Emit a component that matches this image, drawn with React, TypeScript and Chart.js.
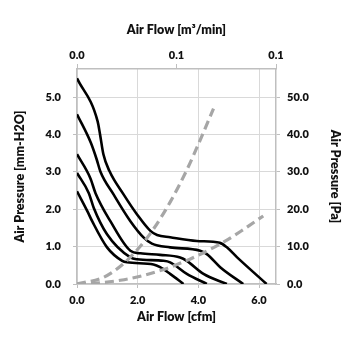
import React, { useEffect, useRef } from "react";
import { Chart, registerables } from "chart.js";

Chart.register(...registerables);

// Fan curves: air flow [cfm] vs static pressure [mm-H2O]
const curve1Cfm = [0, 0.68, 0.76, 0.87, 1.07, 1.54, 1.98, 2.42, 2.64, 3.07, 3.95, 4.71, 4.94, 5.27, 6.25];
const curve1Mm = [5.5, 4.35, 4.0, 3.47, 3.02, 2.39, 1.86, 1.42, 1.31, 1.25, 1.15, 1.1, 0.98, 0.72, 0.0];

const curve2Cfm = [0, 0.46, 0.65, 0.77, 1.21, 1.76, 2.2, 2.47, 3.07, 4.06, 4.28, 4.72, 5.48];
const curve2Mm = [4.54, 3.77, 3.33, 3.01, 2.39, 1.68, 1.24, 1.08, 0.98, 0.89, 0.8, 0.45, 0.0];

const curve3Cfm = [0, 0.44, 0.61, 1.1, 1.76, 2.09, 2.74, 3.4, 3.62, 4.17, 4.94];
const curve3Mm = [3.47, 2.83, 2.43, 1.68, 0.89, 0.82, 0.78, 0.71, 0.62, 0.27, 0.0];

const curve4Cfm = [0, 0.39, 0.55, 0.99, 1.76, 1.98, 2.85, 3.07, 3.62, 4.28];
const curve4Mm = [2.97, 2.43, 2.04, 1.33, 0.71, 0.66, 0.62, 0.58, 0.27, 0.0];

const curve5Cfm = [0, 0.34, 0.5, 0.99, 1.49, 1.65, 2.52, 2.74, 3.07, 3.51];
const curve5Mm = [2.48, 1.95, 1.68, 0.98, 0.62, 0.58, 0.52, 0.45, 0.27, 0.0];

// System impedance curves (dashed)
const impedanceACfm = [0, 0.88, 1.5, 2.0, 2.47, 3.07, 3.62, 4.06, 4.5];
const impedanceAMm = [0, 0.18, 0.52, 0.93, 1.41, 2.19, 3.05, 3.85, 4.69];

const impedanceBCfm = [0, 0.88, 1.43, 2.2, 3.07, 4.0, 4.72, 5.4, 6.14];
const impedanceBMm = [0, 0.04, 0.1, 0.23, 0.45, 0.77, 1.07, 1.41, 1.82];

// Axes
const xMaxCfm = 6.56;
const yMaxMm = 5.75;
const yMaxPa = 57.5;
const bottomTicks = [0, 2, 4, 6];
const leftTicks = [0, 1, 2, 3, 4, 5];
const rightTicks = [0, 10, 20, 30, 40, 50];
const topTickPositions = [0, 3.28, 6.56];
const topTickLabels = ["0.0", "0.1", "0.1"];

const toPoints = (xs: number[], ys: number[]) => xs.map((x, i) => ({ x, y: ys[i] }));

const FONT = 'Lato, "Open Sans", sans-serif';
const GRID = "#d9d9d9";
const AXIS = "#bfbfbf";
const TEXT = "#111111";

export default function App() {
  const ref = useRef<HTMLCanvasElement | null>(null);

  useEffect(() => {
    if (!ref.current) return;
    const blackLine = (xs: number[], ys: number[]) => ({
      data: toPoints(xs, ys),
      borderColor: "#000000",
      borderWidth: 2.6,
      pointRadius: 0,
      cubicInterpolationMode: "monotone" as const,
      fill: false,
      xAxisID: "x",
      yAxisID: "y",
    });
    const dashed = (xs: number[], ys: number[]) => ({
      data: toPoints(xs, ys),
      borderColor: "#a6a6a6",
      borderWidth: 3.2,
      borderDash: [9, 5],
      pointRadius: 0,
      cubicInterpolationMode: "monotone" as const,
      fill: false,
      xAxisID: "x",
      yAxisID: "y",
    });

    const tickFont = { family: FONT, size: 11, weight: 800 };
    const titleFont = { family: FONT, size: 12.5, weight: 800 };

    const chart = new Chart(ref.current, {
      type: "line",
      data: {
        datasets: [
          dashed(impedanceACfm, impedanceAMm),
          dashed(impedanceBCfm, impedanceBMm),
          blackLine(curve1Cfm, curve1Mm),
          blackLine(curve2Cfm, curve2Mm),
          blackLine(curve3Cfm, curve3Mm),
          blackLine(curve4Cfm, curve4Mm),
          blackLine(curve5Cfm, curve5Mm),
        ] as any,
      },
      options: {
        responsive: false,
        animation: false,
        layout: { padding: 0 },
        plugins: { legend: { display: false }, tooltip: { enabled: false } },
        scales: {
          x: {
            type: "linear",
            position: "bottom",
            min: 0,
            max: xMaxCfm,
            afterBuildTicks: (s: any) => {
              s.ticks = bottomTicks.map((v) => ({ value: v }));
            },
            afterFit: (s: any) => {
              s.height = 71;
            },
            ticks: {
              color: TEXT,
              font: tickFont,
              padding: 6,
              maxRotation: 0,
              callback: (v: any) => Number(v).toFixed(1),
            },
            grid: { color: GRID, tickColor: AXIS, tickLength: 4, lineWidth: 1 },
            border: { color: AXIS, width: 1.5 },
            title: {
              display: true,
              text: "Air Flow [cfm]",
              color: TEXT,
              font: titleFont,
              padding: { top: 0, bottom: 31 },
            },
          },
          x2: {
            type: "linear",
            position: "top",
            min: 0,
            max: xMaxCfm,
            afterBuildTicks: (s: any) => {
              s.ticks = topTickPositions.map((v) => ({ value: v }));
            },
            afterFit: (s: any) => {
              s.height = 69;
            },
            ticks: {
              color: TEXT,
              font: tickFont,
              padding: 2,
              maxRotation: 0,
              callback: (_v: any, i: number) => topTickLabels[i],
            },
            grid: { drawOnChartArea: false, tickColor: AXIS, tickLength: 5 },
            border: { color: AXIS, width: 1.5 },
            title: {
              display: true,
              text: "Air Flow [m³/min]",
              color: TEXT,
              font: titleFont,
              padding: { top: 22, bottom: 0 },
            },
          },
          y: {
            type: "linear",
            position: "left",
            min: 0,
            max: yMaxMm,
            afterBuildTicks: (s: any) => {
              s.ticks = leftTicks.map((v) => ({ value: v }));
            },
            afterFit: (s: any) => {
              s.width = 77;
            },
            ticks: {
              color: TEXT,
              font: tickFont,
              padding: 12,
              callback: (v: any) => Number(v).toFixed(1),
            },
            grid: { color: GRID, tickColor: AXIS, tickLength: 4, lineWidth: 1 },
            border: { color: AXIS, width: 1.5 },
            title: {
              display: true,
              text: "Air Pressure [mm-H2O]",
              color: TEXT,
              font: titleFont,
              padding: { top: 12, bottom: 0 },
            },
          },
          y2: {
            type: "linear",
            position: "right",
            min: 0,
            max: yMaxPa,
            afterBuildTicks: (s: any) => {
              s.ticks = rightTicks.map((v) => ({ value: v }));
            },
            afterFit: (s: any) => {
              s.width = 79;
            },
            ticks: {
              color: TEXT,
              font: tickFont,
              padding: 7,
              callback: (v: any) => Number(v).toFixed(1),
            },
            grid: { drawOnChartArea: false, tickColor: AXIS, tickLength: 4 },
            border: { color: AXIS, width: 1.5 },
            title: {
              display: true,
              text: "Air Pressure [Pa]",
              color: TEXT,
              font: titleFont,
              padding: { top: 12, bottom: 0 },
            },
          },
        },
      } as any,
    });
    return () => chart.destroy();
  }, []);

  return (
    <div style={{ position: "fixed", left: 0, top: 0, width: 355, height: 355, background: "#fff" }}>
      <canvas ref={ref} width={355} height={355} style={{ display: "block", width: 355, height: 355 }} />
    </div>
  );
}
